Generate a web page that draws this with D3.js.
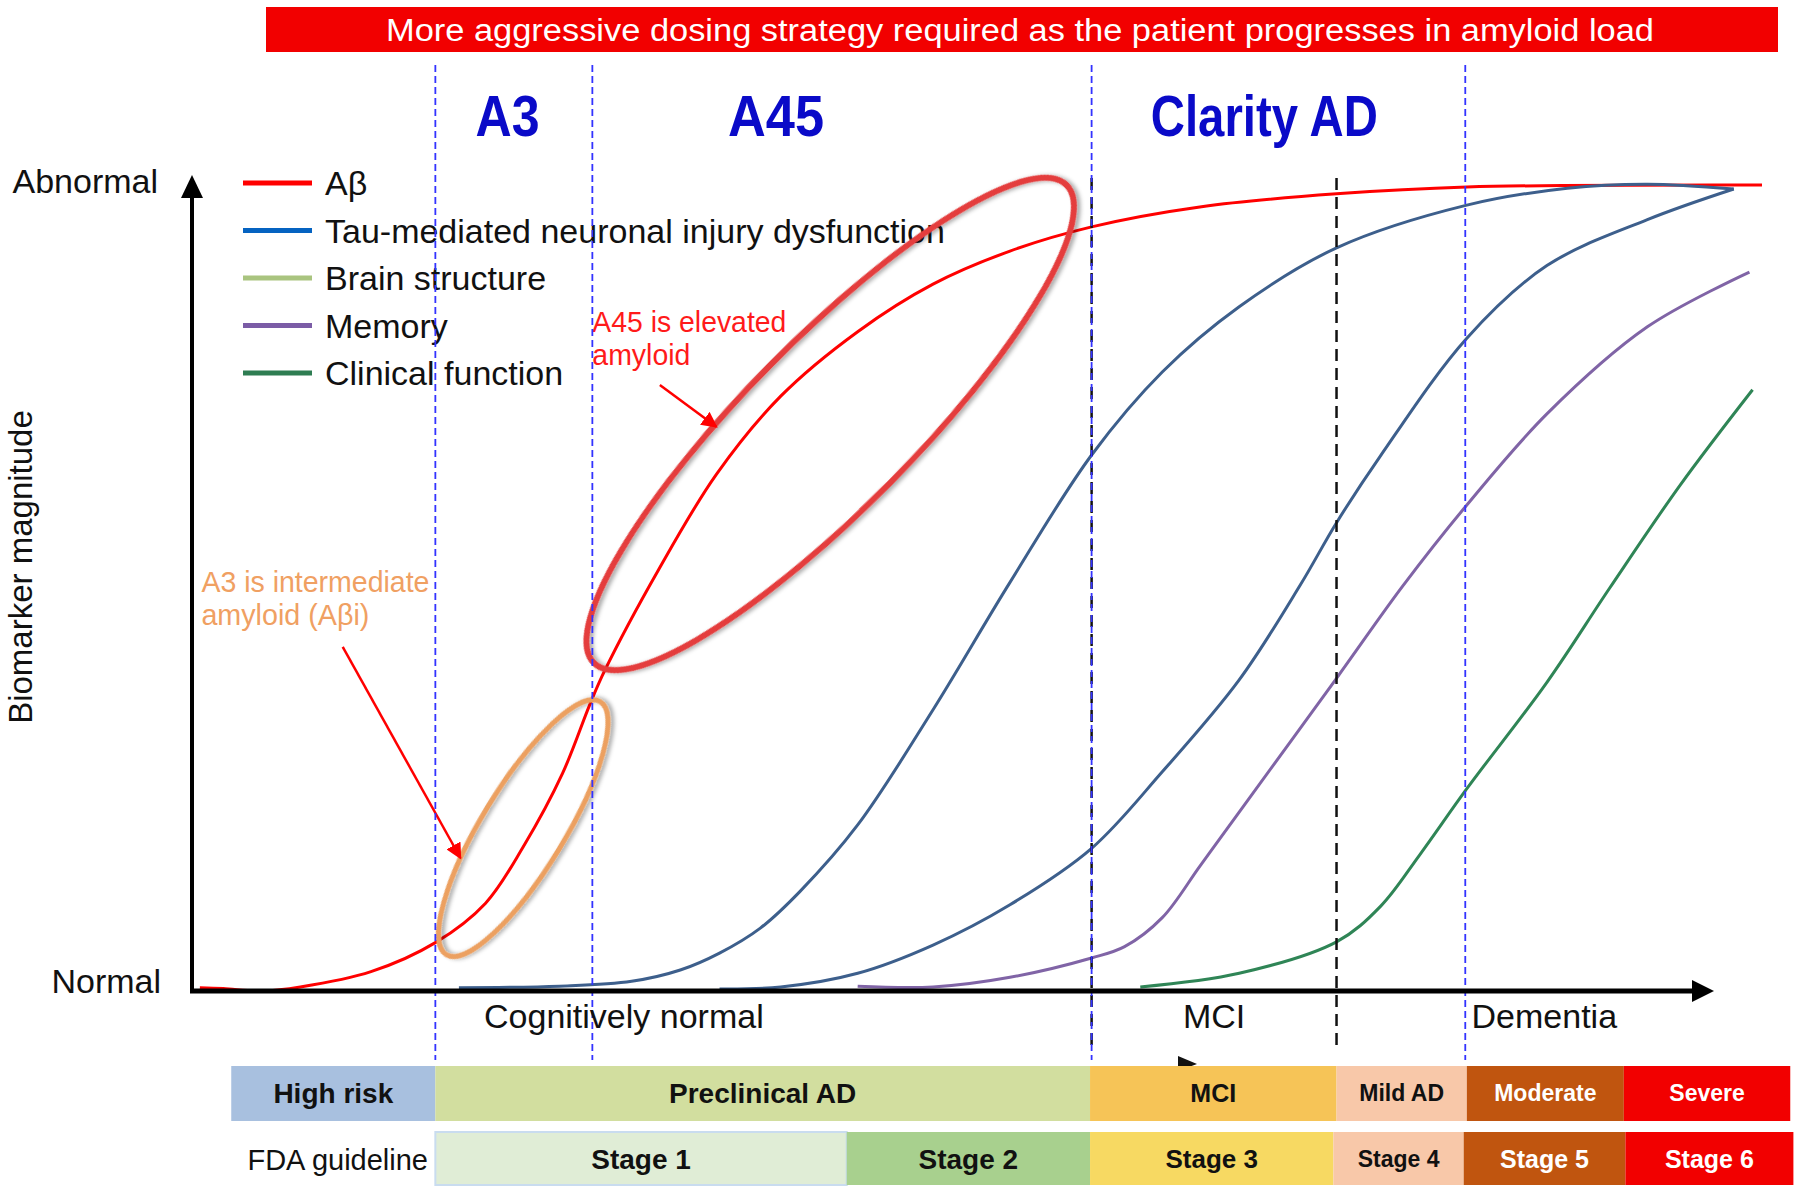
<!DOCTYPE html>
<html>
<head>
<meta charset="utf-8">
<script src="https://cdn.jsdelivr.net/npm/d3@7"></script>
<style>
  html, body { margin: 0; padding: 0; background: #fff; }
  svg { display: block; font-family: "Liberation Sans", Arial, Helvetica, sans-serif; }
</style>
</head>
<body>
<div id="chart"></div>
<script>
// x = disease progression (0-100 along the time axis), y = biomarker magnitude (0 normal .. 100 abnormal)
const abeta = [[0.5,0.4],[2,0.3],[4.5,0],[6.9,0.5],[11.4,2.4],[15.5,6.0],[18.7,10.9],[21.1,17.9],[23.6,27.0],[25.35,35.6],[26.3,39.8],[29.7,52.2],[33.4,64.1],[37.5,73.8],[42.4,81.8],[47.2,87.7],[52.1,91.8],[57.3,94.8],[64.3,97.3],[72.9,98.9],[81.2,99.75],[100,100]];
const tauCurve = [[17.0,0.4],[23.4,0.6],[28.0,1.2],[31.1,2.6],[33.6,4.7],[36.2,7.8],[38.7,12.3],[42.4,20.6],[47.2,34.9],[52.1,50.7],[57.3,66.5],[61.8,76.8],[66.7,84.9],[72.9,92.2],[81.2,97.5],[87.6,99.6],[92.7,100.1],[98.2,99.5]];
const structureCurve = [[33.6,0.25],[37.5,0.5],[42.4,2.2],[47.2,5.7],[52.1,10.7],[57.3,17.7],[61.8,27.2],[66.7,38.6],[70.6,50.4],[72.9,58.1],[75.7,66.4],[81.2,81.0],[86.3,90.0],[92.7,95.7],[98.2,99.5]];
const memoryCurve = [[42.4,0.6],[47.2,0.5],[52.1,1.7],[57.3,4.1],[59.4,5.5],[61.8,9.1],[64.2,15.5],[66.7,22.2],[72.9,38.8],[77.1,50.2],[81.2,60.3],[86.3,71.6],[92.7,82.4],[99.2,89.2]];
const clinicalCurve = [[60.4,0.5],[66.7,2.2],[72.9,6.1],[75.7,10.5],[78.2,16.9],[81.2,25.1],[86.3,38.3],[90.3,50.0],[94.8,62.8],[99.4,74.6]];

const legendNames = ["Aβ", "Tau-mediated neuronal injury dysfunction", "Brain structure", "Memory", "Clinical function"];
const legendColors = ["#ff0000", "#0563c1", "#a9c47f", "#7b5ca6", "#2e7d52"];

// trial windows (blue dashed) and clinical boundaries (black dashed)
const trialBounds = [15.5, 25.5, 57.3, 81.1];
const clinicalBounds = [57.3, 72.9];
const trialNames = ["A3", "A45", "Clarity AD"];
const trialCenters = [20.1, 37.2, 68.3];
const trialWidths = [64, 96, 227];

const phaseNames = ["Cognitively normal", "MCI", "Dementia"];
const phaseX = [18.6, 65.1, 81.5];
const phaseAnchor = ["start", "middle", "start"];

const stageNames = ["High risk", "Preclinical AD", "MCI", "Mild AD", "Moderate", "Severe"];
const stageEdges = [2.5, 15.5, 57.2, 72.9, 81.2, 91.2, 101.8];
const stageColors = ["#a8c0df", "#d2de9f", "#f6c457", "#f8c8a9", "#c0550f", "#f20000"];
const stageText = ["#111", "#111", "#111", "#111", "#fff", "#fff"];
const stageFont = [28, 28, 25, 23, 23, 23];

const fdaNames = ["Stage 1", "Stage 2", "Stage 3", "Stage 4", "Stage 5", "Stage 6"];
const fdaEdges = [15.5, 41.7, 57.2, 72.7, 81.0, 91.3, 102];
const fdaColors = ["#e0edd6", "#a8d08e", "#f7d962", "#f8c8a9", "#c0550f", "#f20000"];
const fdaText = ["#111", "#111", "#111", "#111", "#fff", "#fff"];
const fdaFont = [28, 28, 26, 23, 25, 25];

// highlighted amyloid ranges: tips of the ellipse in data units, minor/major ratio
const a3Ring = {tips: [[16.2, 4.5], [26.0, 35.9]], ratio: 0.28};
const a45Ring = {tips: [[25.6, 40.7], [55.7, 100.0]], ratio: 0.25};

const W = 1800, H = 1196;

const x = d3.scaleLinear().domain([0, 100]).range([192, 1762]);
const y = d3.scaleLinear().domain([0, 100]).range([991, 185]);

const svg = d3.select("#chart").append("svg")
  .attr("width", W)
  .attr("height", H);

const defs = svg.append("defs");
defs.append("filter")
  .attr("id", "shadow")
  .attr("x", "-20%").attr("y", "-20%").attr("width", "140%").attr("height", "140%")
  .append("feDropShadow")
  .attr("dx", 2).attr("dy", 3).attr("stdDeviation", 2)
  .attr("flood-color", "#000").attr("flood-opacity", 0.35);

defs.append("marker")
  .attr("id", "redHead")
  .attr("viewBox", "0 0 10 10")
  .attr("refX", 9).attr("refY", 5)
  .attr("markerWidth", 16).attr("markerHeight", 16)
  .attr("markerUnits", "userSpaceOnUse")
  .attr("orient", "auto")
  .append("path")
  .attr("d", "M0,0 L10,5 L0,10 z")
  .attr("fill", "#ff0000");

// Banner
svg.append("rect")
  .attr("x", 266).attr("y", 7)
  .attr("width", 1512).attr("height", 45)
  .attr("fill", "#f20000");

svg.append("text")
  .attr("x", 386).attr("y", 41)
  .attr("fill", "#fff")
  .attr("font-size", 31)
  .attr("textLength", 1268)
  .attr("lengthAdjust", "spacingAndGlyphs")
  .text("More aggressive dosing strategy required as the patient progresses in amyloid load");

// Trial labels
svg.append("g")
  .selectAll("text")
  .data(trialNames)
  .enter().append("text")
    .attr("x", (d, i) => x(trialCenters[i]) - trialWidths[i] / 2)
    .attr("y", 136)
    .attr("fill", "#0a0ac8")
    .attr("font-size", 58)
    .attr("font-weight", "bold")
    .attr("textLength", (d, i) => trialWidths[i])
    .attr("lengthAdjust", "spacingAndGlyphs")
    .text(d => d);

// Legend
let legend = svg.append("g");
legendNames.forEach((name, i) => {
  let ly = 183 + i * 47.5;
  legend.append("line")
    .attr("x1", 243).attr("x2", 312)
    .attr("y1", ly).attr("y2", ly)
    .attr("stroke", legendColors[i])
    .attr("stroke-width", 5);
  legend.append("text")
    .attr("x", 325).attr("y", ly + 12)
    .attr("font-size", 34)
    .attr("fill", "#111")
    .text(name);
});

// Curves
const line = d3.line()
  .x(d => x(d[0]))
  .y(d => y(d[1]))
  .curve(d3.curveCatmullRom.alpha(0.5));

const curves = [
  {data: abeta, color: "#ff0000", w: 3},
  {data: tauCurve, color: "#3d5f8c", w: 3},
  {data: structureCurve, color: "#3d5f8c", w: 3},
  {data: memoryCurve, color: "#8064a6", w: 3},
  {data: clinicalCurve, color: "#2f8556", w: 3}
];

svg.append("g")
  .selectAll("path")
  .data(curves)
  .enter().append("path")
    .attr("d", d => line(d.data))
    .attr("fill", "none")
    .attr("stroke", d => d.color)
    .attr("stroke-width", d => d.w);

// Highlight ellipses
function ring(r) {
  let x1 = x(r.tips[0][0]), y1 = y(r.tips[0][1]);
  let x2 = x(r.tips[1][0]), y2 = y(r.tips[1][1]);
  let a = Math.hypot(x2 - x1, y2 - y1) / 2;
  return {
    cx: (x1 + x2) / 2, cy: (y1 + y2) / 2,
    rx: a, ry: a * r.ratio,
    ang: Math.atan2(y2 - y1, x2 - x1) * 180 / Math.PI
  };
}

[[a3Ring, "#eca060", 5], [a45Ring, "#e43c3c", 6]].forEach(([r, color, sw]) => {
  let e = ring(r);
  svg.append("ellipse")
    .attr("transform", "translate(" + [e.cx, e.cy] + ") rotate(" + e.ang + ")")
    .attr("rx", e.rx).attr("ry", e.ry)
    .attr("fill", "none")
    .attr("stroke", color)
    .attr("stroke-width", sw)
    .attr("filter", "url(#shadow)");
});

// Annotation arrows
const arrows = [
  [[29.8, 75.2], [33.4, 70.0]],
  [[9.6, 42.7], [17.1, 16.5]]
];
svg.append("g")
  .selectAll("line")
  .data(arrows)
  .enter().append("line")
    .attr("x1", d => x(d[0][0])).attr("y1", d => y(d[0][1]))
    .attr("x2", d => x(d[1][0])).attr("y2", d => y(d[1][1]))
    .attr("stroke", "#ff0000")
    .attr("stroke-width", 2.5)
    .attr("marker-end", "url(#redHead)");

// Annotation texts
const notes = [
  {lines: ["A45 is elevated", "amyloid"], at: [25.5, 81.8], color: "#ff1a1a", len: [194, 98]},
  {lines: ["A3 is intermediate", "amyloid (Aβi)"], at: [0.6, 49.5], color: "#f0a062", len: [228, 168]}
];
notes.forEach(n => {
  n.lines.forEach((t, i) => {
    svg.append("text")
      .attr("x", x(n.at[0]))
      .attr("y", y(n.at[1]) + i * 33)
      .attr("fill", n.color)
      .attr("font-size", 29)
      .attr("textLength", n.len[i])
      .attr("lengthAdjust", "spacingAndGlyphs")
      .text(t);
  });
});

// Dashed boundaries
svg.append("g")
  .selectAll("line")
  .data(clinicalBounds)
  .enter().append("line")
    .attr("x1", d => x(d)).attr("x2", d => x(d))
    .attr("y1", 178).attr("y2", 1046)
    .attr("stroke", "#111")
    .attr("stroke-width", 2.5)
    .attr("stroke-dasharray", "12,7");

svg.append("g")
  .selectAll("line")
  .data(trialBounds)
  .enter().append("line")
    .attr("x1", d => x(d)).attr("x2", d => x(d))
    .attr("y1", 65).attr("y2", 1060)
    .attr("stroke", "#3333ff")
    .attr("stroke-width", 1.8)
    .attr("stroke-dasharray", "7,4");

// Axes
let axes = svg.append("g");
axes.append("line")
  .attr("x1", 192).attr("x2", 192)
  .attr("y1", 993).attr("y2", 195)
  .attr("stroke", "#000").attr("stroke-width", 4);
axes.append("path")
  .attr("d", "M181,198 L192,175 L203,198 Z")
  .attr("fill", "#000");
axes.append("line")
  .attr("x1", 190).attr("x2", 1695)
  .attr("y1", 991).attr("y2", 991)
  .attr("stroke", "#000").attr("stroke-width", 5);
axes.append("path")
  .attr("d", "M1692,980 L1714,991 L1692,1002 Z")
  .attr("fill", "#000");

axes.append("text")
  .attr("x", 158).attr("y", 193)
  .attr("text-anchor", "end")
  .attr("font-size", 34).attr("fill", "#111")
  .text("Abnormal");
axes.append("text")
  .attr("x", 161).attr("y", 993)
  .attr("text-anchor", "end")
  .attr("font-size", 34).attr("fill", "#111")
  .text("Normal");
axes.append("text")
  .attr("transform", "translate(32,567) rotate(-90)")
  .attr("text-anchor", "middle")
  .attr("font-size", 33).attr("fill", "#111")
  .text("Biomarker magnitude");

axes.selectAll("text.phase")
  .data(phaseNames)
  .enter().append("text")
    .attr("class", "phase")
    .attr("x", (d, i) => x(phaseX[i]))
    .attr("y", 1028)
    .attr("text-anchor", (d, i) => phaseAnchor[i])
    .attr("font-size", 34).attr("fill", "#111")
    .text(d => d);

// small stray arrowhead above the MCI bar
axes.append("path")
  .attr("d", "M1178,1056 L1197,1064 L1178,1071 Z")
  .attr("fill", "#111");

// Staging bars
function stageRow(names, edges, colors, textColors, fonts, top, h, textY) {
  let g = svg.append("g");
  g.selectAll("rect")
    .data(names)
    .enter().append("rect")
      .attr("x", (d, i) => x(edges[i]))
      .attr("y", top)
      .attr("width", (d, i) => x(edges[i + 1]) - x(edges[i]))
      .attr("height", h)
      .attr("fill", (d, i) => colors[i]);
  g.selectAll("text")
    .data(names)
    .enter().append("text")
      .attr("x", (d, i) => (x(edges[i]) + x(edges[i + 1])) / 2)
      .attr("y", textY)
      .attr("text-anchor", "middle")
      .attr("dominant-baseline", "central")
      .attr("font-weight", "bold")
      .attr("font-size", (d, i) => fonts[i])
      .attr("fill", (d, i) => textColors[i])
      .text(d => d);
  return g;
}

stageRow(stageNames, stageEdges, stageColors, stageText, stageFont, 1066, 55, 1093);
let fda = stageRow(fdaNames, fdaEdges, fdaColors, fdaText, fdaFont, 1132, 53, 1159);
fda.select("rect").attr("stroke", "#c9dcef").attr("stroke-width", 2);

svg.append("text")
  .attr("x", 428).attr("y", 1170)
  .attr("text-anchor", "end")
  .attr("font-size", 29).attr("fill", "#111")
  .text("FDA guideline");
</script>
</body>
</html>
